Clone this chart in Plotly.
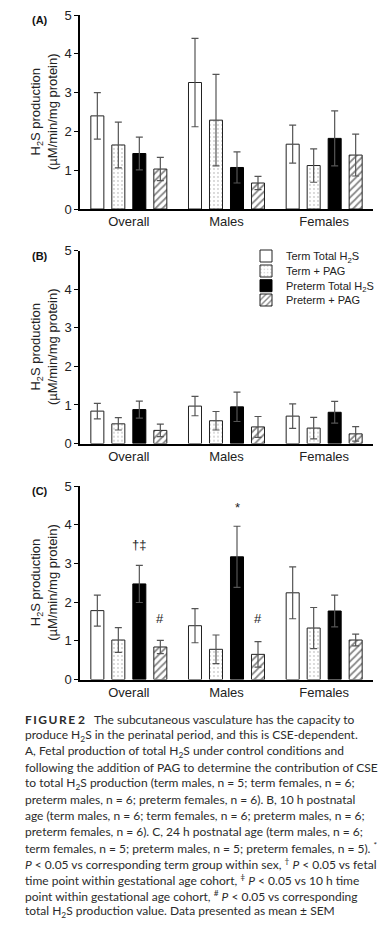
import plotly.graph_objects as go

W, H = 389, 931
L, R = 80, 16

categories = ["Overall", "Males", "Females"]
series_names = ["Term Total H<sub>2</sub>S", "Term + PAG",
                "Preterm Total H<sub>2</sub>S", "Preterm + PAG"]

# Panel A (fetal)
a_mean = [[2.40, 3.26, 1.67], [1.65, 2.29, 1.12], [1.43, 1.07, 1.82], [1.03, 0.67, 1.39]]
a_sem = [[0.60, 1.14, 0.49], [0.59, 1.18, 0.43], [0.42, 0.40, 0.71], [0.30, 0.17, 0.54]]
# Panel B (10 h)
b_mean = [[0.84, 0.97, 0.71], [0.51, 0.59, 0.40], [0.88, 0.95, 0.81], [0.34, 0.43, 0.25]]
b_sem = [[0.20, 0.25, 0.32], [0.16, 0.24, 0.28], [0.22, 0.38, 0.28], [0.16, 0.27, 0.19]]
# Panel C (24 h)
c_mean = [[1.78, 1.39, 2.24], [1.02, 0.78, 1.33], [2.47, 3.17, 1.77], [0.84, 0.65, 1.02]]
c_sem = [[0.40, 0.44, 0.67], [0.32, 0.37, 0.53], [0.48, 0.79, 0.41], [0.17, 0.33, 0.15]]

y_ticks = [0, 1, 2, 3, 4, 5]
panel_labels = ["(A)", "(B)", "(C)"]

# significance marks in panel C: (category, series index, y value, text)
sig_marks = [("Overall", 2, 3.48, "†‡"), ("Males", 2, 4.44, "*"),
             ("Overall", 3, 1.57, "#"), ("Males", 3, 1.57, "#")]

caption_lines = [
    "<b>F\u2009I\u2009G\u2009U\u2009R\u2009E\u2009\u20092</b>   The subcutaneous vasculature has the capacity to",
    "produce H<sub>2</sub>S in the perinatal period, and this is CSE-dependent.",
    "A, Fetal production of total H<sub>2</sub>S under control conditions and",
    "following the addition of PAG to determine the contribution of CSE",
    "to total H<sub>2</sub>S production (term males, n = 5; term females, n = 6;",
    "preterm males, n = 6; preterm females, n = 6). B, 10 h postnatal",
    "age (term males, n = 6; term females, n = 6; preterm males, n = 6;",
    "preterm females, n = 6). C, 24 h postnatal age (term males, n = 6;",
    "term females, n = 5; preterm males, n = 5; preterm females, n = 5). <sup>*</sup>",
    "<i>P</i> &lt; 0.05 vs corresponding term group within sex, <sup>†</sup> <i>P</i> &lt; 0.05 vs fetal",
    "time point within gestational age cohort, <sup>‡</sup> <i>P</i> &lt; 0.05 vs 10 h time",
    "point within gestational age cohort, <sup>#</sup> <i>P</i> &lt; 0.05 vs corresponding",
    "total H<sub>2</sub>S production value. Data presented as mean ± SEM",
]

# panel pixel extents (top of 5, bottom at 0)
panel_px = [(15, 209), (250.7, 443.5), (486, 679.5)]

def py(p):
    return 1 - p / H

def px(p):
    return (p - L) / (W - L - R)

styles = [
    dict(color="white", pattern=None, line="#222"),
    dict(color="white", pattern=dict(shape=".", fgcolor="#444", bgcolor="white", size=4, solidity=0.1), line="#222"),
    dict(color="black", pattern=None, line="black"),
    dict(color="white", pattern=dict(shape="/", fgcolor="#111", bgcolor="white", size=5, solidity=0.35), line="#222"),
]

fig = go.Figure()
data_sets = [(a_mean, a_sem), (b_mean, b_sem), (c_mean, c_sem)]
legend_names = ["legend", "legend2", "legend3", "legend4"]
for pi, (means, sems) in enumerate(data_sets):
    ax = "" if pi == 0 else str(pi + 1)
    for si in range(4):
        st = styles[si]
        marker = dict(color=st["color"], line=dict(color=st["line"], width=1))
        if st["pattern"]:
            marker["pattern"] = st["pattern"]
        fig.add_trace(go.Bar(
            x=categories, y=means[si], name=series_names[si],
            marker=marker,
            error_y=dict(type="data", array=sems[si], color="#555", thickness=1.2, width=3.5),
            xaxis="x" + ax, yaxis="y" + ax,
            offsetgroup=str(si), showlegend=(pi == 1), legend=legend_names[si],
        ))

axis_font = dict(family="Liberation Sans, Arial", size=13, color="#222")
layout = dict(
    width=W, height=H,
    margin=dict(l=L, r=R, t=0, b=0, autoexpand=False),
    paper_bgcolor="white", plot_bgcolor="white",
    barmode="group", bargap=0.14, bargroupgap=0.38,
    font=dict(family="Liberation Sans, Arial", color="#222"),
)
for pi in range(3):
    ax = "" if pi == 0 else str(pi + 1)
    top, bot = panel_px[pi]
    layout["xaxis" + ax] = dict(
        domain=[0, 1], anchor="y" + ax, range=[-0.5, 2.5], showline=True,
        linecolor="black", linewidth=1.5, ticks="", tickfont=axis_font,
        showgrid=False, zeroline=False, fixedrange=True)
    layout["yaxis" + ax] = dict(
        domain=[py(bot), py(top)], anchor="x" + ax, range=[0, 5],
        tickvals=y_ticks, showline=True, linecolor="black", linewidth=1.5,
        ticks="outside", ticklen=4, tickwidth=1.2, tickcolor="black",
        tickfont=axis_font, showgrid=False, zeroline=False, fixedrange=True)

# legends in panel B
legend_rows = [256, 271, 285.7, 300]
for i, ln in enumerate(legend_names):
    layout[ln] = dict(x=px(246), y=py(legend_rows[i]), xanchor="left", yanchor="middle",
                      font=dict(family="Liberation Sans, Arial", size=11, color="#222"),
                      bgcolor="rgba(0,0,0,0)", itemwidth=30, borderwidth=0)

fig.update_layout(**layout)

ann = []
for pi in range(3):
    top, bot = panel_px[pi]
    ann.append(dict(text="H<sub>2</sub>S production<br>(µM/min/mg protein)", xref="paper", yref="paper",
                    x=px(44), y=py((top + bot) / 2), xanchor="center", yanchor="middle",
                    textangle=-90, showarrow=False,
                    font=dict(family="Liberation Sans, Arial", size=13, color="#222")))
    ann.append(dict(text="<b>" + panel_labels[pi] + "</b>", xref="paper", yref="paper",
                    x=px(39.5), y=py(top + 5), xanchor="center", yanchor="middle", showarrow=False,
                    font=dict(family="Liberation Sans, Arial", size=11, color="#111")))

offsets = [-31.5, -10.5, 10.5, 31.5]
for cat, si, yv, t in sig_marks:
    ann.append(dict(text=t, xref="x3", yref="y3", x=cat, y=yv, xshift=offsets[si],
                    xanchor="center", yanchor="middle", showarrow=False,
                    font=dict(family="Liberation Sans, Arial", size=13, color="#222")))

for i, line in enumerate(caption_lines):
    ann.append(dict(text=line, xref="paper", yref="paper", x=px(23), y=py(719.3 + 16.03 * i),
                    xanchor="left", yanchor="middle", showarrow=False, align="left",
                    font=dict(family="Lato", size=12, color="#2b2b2b")))

fig.update_layout(annotations=ann)
fig.write_html("out.html", config={"displayModeBar": False},
               post_script="document.body.style.margin='0';document.body.style.overflow='hidden';")
